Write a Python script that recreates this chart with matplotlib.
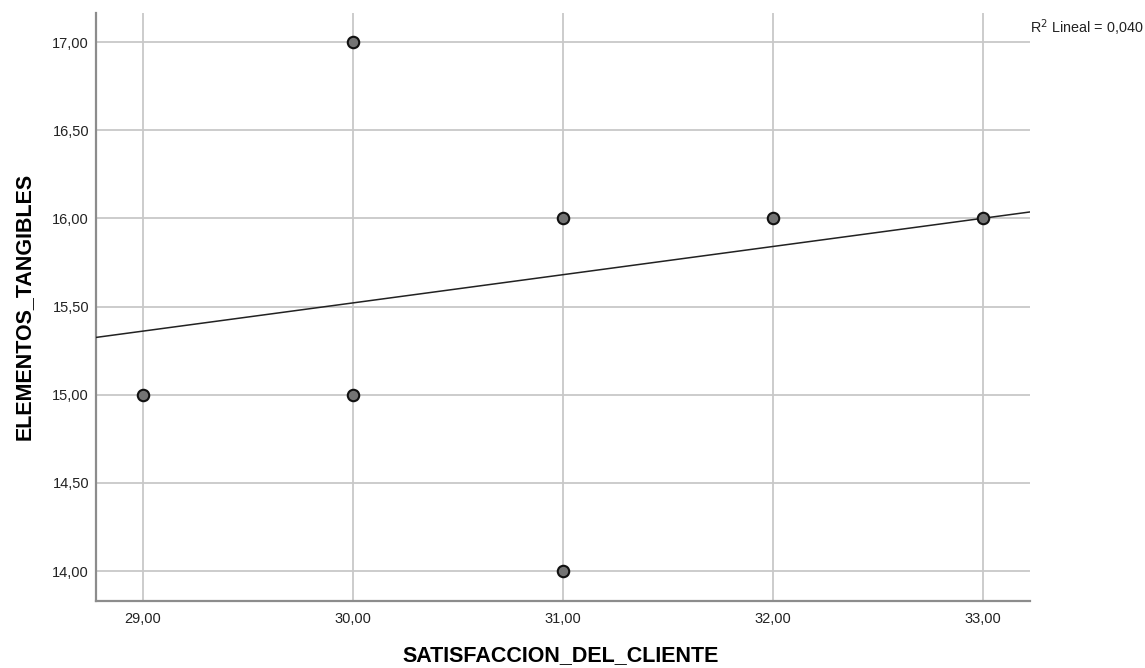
import numpy as np
import matplotlib.pyplot as plt

plt.rcParams['font.family'] = ['Liberation Sans', 'DejaVu Sans']

# data
satisfaccion = [29, 30, 30, 31, 31, 32, 33]
tangibles = [15, 17, 15, 16, 14, 16, 16]
# fit line as shown (R2 lineal = 0,040)
fit_slope = 0.160
fit_intercept = 10.721
r2 = 0.040

xticks = [29, 30, 31, 32, 33]
yticks = [14.0, 14.5, 15.0, 15.5, 16.0, 16.5, 17.0]

fig = plt.figure(figsize=(11.45, 6.68), dpi=100)
ax = fig.add_axes([0.0838, 0.101, 0.8158, 0.8795])

xmin, xmax = 28.776, 33.224
ymin, ymax = 13.833, 17.165
ax.set_xlim(xmin, xmax)
ax.set_ylim(ymin, ymax)

ax.set_xticks(xticks)
ax.set_yticks(yticks)
ax.set_xticklabels(['{:.2f}'.format(v).replace('.', ',') for v in xticks])
ax.set_yticklabels(['{:.2f}'.format(v).replace('.', ',') for v in yticks])
ax.tick_params(length=0, labelsize=10.5, colors='#222222')
ax.tick_params(axis='y', pad=5)
ax.tick_params(axis='x', pad=8)

ax.grid(True, color='#c8c8c8', linewidth=1.3)
ax.set_axisbelow(True)
for s in ['top', 'right']:
    ax.spines[s].set_visible(False)
for s in ['left', 'bottom']:
    ax.spines[s].set_color('#8c8c8c')
    ax.spines[s].set_linewidth(1.6)

xl = np.array([xmin, xmax])
ax.plot(xl, np.polyval([fit_slope, fit_intercept], xl), color='#222222', linewidth=1.1, zorder=3)

ax.scatter(satisfaccion, tangibles, s=68, facecolor='#747474', edgecolor='#111111',
           linewidth=1.5, zorder=4)

ax.set_xlabel('SATISFACCION_DEL_CLIENTE', fontsize=15.5, fontweight='bold')
ax.set_ylabel('ELEMENTOS_TANGIBLES', fontsize=15.5, fontweight='bold')
ax.xaxis.set_label_coords(0.497, -0.076)
ax.yaxis.set_label_coords(-0.066, 0.5)

fig.text(0.8996, 0.959, 'R$^2$ Lineal = {:.3f}'.format(r2).replace('.', ','),
         fontsize=10.4, color='#222222', ha='left', va='center')

fig.savefig('out.png', dpi=100)
